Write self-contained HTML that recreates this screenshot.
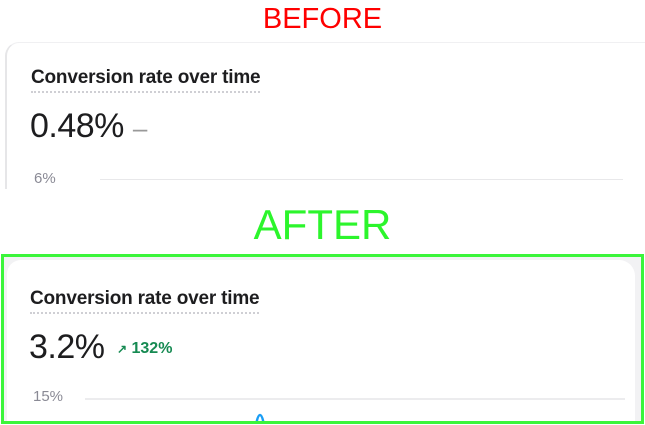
<!DOCTYPE html>
<html><head><meta charset="utf-8">
<style>
html,body{margin:0;width:645px;height:425px;overflow:hidden;background:#fff;font-family:"Liberation Sans",sans-serif;position:relative}
.abs{position:absolute}
.title{font-size:19px;font-weight:600;color:#1d1d1f;border-bottom:2px dotted #cfcfd4;padding-bottom:2px;letter-spacing:-0.2px}
.big{color:#1d1d1f;letter-spacing:-0.5px}
.tick{font-size:15px;color:#8a8a95}
</style></head><body>
<div class="abs" style="left:0;width:645px;top:3px;text-align:center;font-size:29px;color:#f00">BEFORE</div>
<div class="abs" style="left:5px;top:42px;width:638px;height:146px;border-left:2px solid #e6e6e8;border-top:1px solid #f0f0f2;border-radius:14px 0 0 0;background:#fff"></div>
<div class="abs title" style="left:31px;top:67px">Conversion rate over time</div>
<div class="abs big" style="left:30px;top:107px;font-size:34px">0.48% <span style="color:#999;font-size:26px">–</span></div>
<div class="abs tick" style="left:34px;top:170px">6%</div>
<div class="abs" style="left:100px;top:179px;width:523px;height:1px;background:#e8e8ea"></div>

<div class="abs" style="left:0;width:645px;top:201px;text-align:center;font-size:42px;color:#2cf52c">AFTER</div>
<div class="abs" style="left:1px;top:254px;width:637px;height:164px;border:3px solid #3bf53b;background:#f2f2f4;overflow:hidden">
 <div class="abs" style="left:3px;top:3px;width:628px;height:161px;background:#fff;border-radius:14px 16px 0 0"></div>
</div>
<div class="abs title" style="left:30px;top:288px">Conversion rate over time</div>
<div class="abs big" style="left:29px;top:328px;font-size:34px">3.2%</div>
<div class="abs" style="left:117px;top:340px;font-size:16px;font-weight:700;color:#168a52"><span style="font-size:12px">&#8599;</span> 132%</div>
<div class="abs tick" style="left:33px;top:388px">15%</div>
<div class="abs" style="left:0;top:0;width:645px;height:421px;overflow:hidden">
<svg style="position:absolute;left:0;top:0" width="645" height="421">
 <line x1="85" x2="625" y1="399" y2="399" stroke="#ececee" stroke-width="2"/>
 <path id="ln" fill="none" stroke="#1a9ef5" stroke-width="2.5" stroke-linejoin="round"/>
</svg>
</div>
<script>
var values=[0,0,0,0,0,0,0,0,0,0,0,0,12,0,0,0,0,0,0,0,0,0,0,0,0,0,0,0,0,0,0,0,0,0,0,0,0,0,0,0];
var yTicks=[15];
function xs(i){return 100+i*(520/(values.length-1));}
function ys(v){return 479-v*(80/15);}
var d='M'+xs(0).toFixed(1)+' '+ys(values[0]).toFixed(1);
for(var i=1;i<values.length;i++){
  var x0=xs(i-1),x1=xs(i),y0=ys(values[i-1]),y1=ys(values[i]),h=(x1-x0)/2;
  d+=' C'+(x0+h).toFixed(1)+' '+y0.toFixed(1)+' '+(x1-h).toFixed(1)+' '+y1.toFixed(1)+' '+x1.toFixed(1)+' '+y1.toFixed(1);
}
document.getElementById('ln').setAttribute('d',d);
</script>
</body></html>
